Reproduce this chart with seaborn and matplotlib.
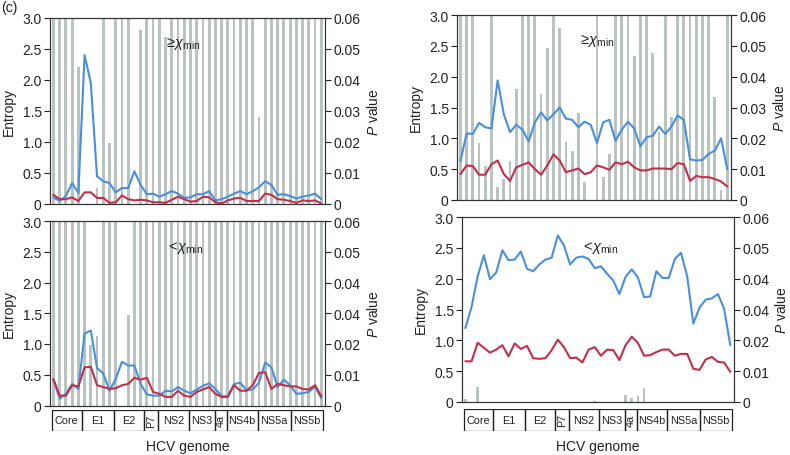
import numpy as np
import pandas as pd
import seaborn as sns
import matplotlib.pyplot as plt

# ---- data (44 windows along the HCV genome) ----
# top left panel (>= chi_min)
tl_blue = [0.10, 0.04, 0.12, 0.33, 0.17, 2.40, 1.95, 0.44, 0.36, 0.33,
           0.18, 0.25, 0.25, 0.52, 0.30, 0.15, 0.16, 0.11, 0.15, 0.20,
           0.16, 0.09, 0.10, 0.15, 0.15, 0.20, 0.05, 0.07, 0.11, 0.16,
           0.20, 0.15, 0.20, 0.26, 0.36, 0.30, 0.14, 0.15, 0.12, 0.08,
           0.11, 0.13, 0.16, 0.07]
tl_red = [0.14, 0.07, 0.07, 0.10, 0.04, 0.18, 0.18, 0.09, 0.09, 0.01,
          0.02, 0.13, 0.07, 0.05, 0.06, 0.05, 0.02, 0.02, 0.01, 0.06,
          0.11, 0.07, 0.03, 0.04, 0.11, 0.10, 0.02, 0.00, 0.05, 0.08,
          0.09, 0.04, 0.04, 0.04, 0.16, 0.14, 0.07, 0.06, 0.04, 0.01,
          0.05, 0.04, 0.05, 0.00]
tl_p = [0.06, 0.06, 0.06, 0.06, 0.044, 0, 0, 0.005, 0.06, 0.0195,
        0.06, 0.06, 0.06, 0, 0.056, 0.06, 0.06, 0.06, 0.054, 0.06,
        0.06, 0.06, 0.06, 0.06, 0.06, 0.06, 0.06, 0.06, 0.06, 0.06,
        0.06, 0.06, 0.06, 0.028, 0.06, 0.06, 0.06, 0.06, 0.06, 0.06,
        0.06, 0.06, 0.06, 0.06]

# top right panel (>= chi_min)
tr_blue = [0.63, 1.08, 1.07, 1.25, 1.18, 1.16, 1.94, 1.39, 1.10, 1.22,
           1.14, 0.95, 1.26, 1.42, 1.29, 1.39, 1.50, 1.32, 1.30, 1.18,
           1.27, 1.22, 0.92, 1.26, 1.30, 0.96, 1.14, 1.27, 1.16, 0.87,
           1.02, 1.04, 1.19, 1.07, 1.19, 1.37, 1.30, 0.66, 0.64, 0.65,
           0.75, 0.80, 1.00, 0.50]
tr_red = [0.42, 0.56, 0.55, 0.41, 0.41, 0.58, 0.64, 0.42, 0.31, 0.53,
          0.57, 0.61, 0.50, 0.41, 0.56, 0.74, 0.64, 0.45, 0.48, 0.51,
          0.42, 0.45, 0.56, 0.53, 0.49, 0.61, 0.58, 0.62, 0.53, 0.48,
          0.48, 0.51, 0.51, 0.51, 0.50, 0.60, 0.58, 0.31, 0.39, 0.37,
          0.37, 0.34, 0.30, 0.22]
tr_p = [0.06, 0.06, 0.06, 0.0185, 0.011, 0.06, 0.0042, 0.0068, 0.0125, 0.036,
        0.06, 0.06, 0.06, 0.0344, 0.0493, 0.06, 0.0557, 0.0189, 0.016, 0.0282,
        0.0058, 0, 0.06, 0.0075, 0.0149, 0.06, 0.06, 0.06, 0.0468, 0.06,
        0.06, 0.0476, 0.022, 0.06, 0.027, 0.06, 0.06, 0.06, 0.06, 0.06,
        0.06, 0.0334, 0.0033, 0.06]

# bottom left panel (< chi_min)
bl_blue = [0.42, 0.11, 0.19, 0.35, 0.27, 1.17, 1.22, 0.61, 0.52, 0.24,
           0.43, 0.71, 0.65, 0.65, 0.35, 0.18, 0.16, 0.16, 0.24, 0.23,
           0.30, 0.24, 0.20, 0.26, 0.32, 0.36, 0.27, 0.15, 0.15, 0.35,
           0.37, 0.25, 0.26, 0.37, 0.70, 0.62, 0.30, 0.42, 0.33, 0.19,
           0.20, 0.22, 0.31, 0.12]
bl_red = [0.43, 0.16, 0.16, 0.33, 0.31, 0.62, 0.63, 0.33, 0.30, 0.27,
          0.28, 0.33, 0.35, 0.45, 0.42, 0.45, 0.22, 0.19, 0.14, 0.14,
          0.24, 0.16, 0.14, 0.22, 0.26, 0.30, 0.19, 0.14, 0.14, 0.33,
          0.24, 0.24, 0.33, 0.53, 0.54, 0.27, 0.35, 0.33, 0.31, 0.31,
          0.27, 0.26, 0.33, 0.15]
bl_p = [0.06, 0.06, 0.06, 0.06, 0.06, 0.06, 0.0197, 0.0226, 0.06, 0.06,
        0.06, 0, 0.0293, 0.06, 0.06, 0.06, 0.06, 0.06, 0.06, 0.06,
        0.06, 0.06, 0.06, 0.06, 0.06, 0.06, 0.06, 0.06, 0.06, 0.06,
        0.06, 0.06, 0.06, 0.06, 0.06, 0.06, 0.06, 0.06, 0.06, 0.06,
        0.06, 0.06, 0.06, 0.06]

# bottom right panel (< chi_min)
br_blue = [1.20, 1.54, 2.04, 2.38, 1.99, 2.10, 2.46, 2.30, 2.31, 2.44,
           2.16, 2.12, 2.23, 2.31, 2.34, 2.70, 2.54, 2.23, 2.34, 2.36,
           2.32, 2.17, 2.20, 2.08, 1.97, 1.75, 2.03, 2.15, 2.02, 1.70,
           1.71, 2.12, 2.01, 2.01, 2.32, 2.42, 2.04, 1.27, 1.53, 1.66,
           1.68, 1.75, 1.51, 0.92]
br_red = [0.66, 0.66, 0.96, 0.88, 0.80, 0.85, 0.92, 0.74, 0.95, 0.86,
          0.91, 0.71, 0.70, 0.71, 0.84, 1.01, 0.89, 0.71, 0.72, 0.64,
          0.85, 0.89, 0.75, 0.85, 0.84, 0.68, 0.92, 1.06, 0.96, 0.75,
          0.76, 0.81, 0.85, 0.85, 0.75, 0.78, 0.78, 0.54, 0.52, 0.69,
          0.73, 0.65, 0.64, 0.49]
br_p = [0.0011, 0, 0.0049, 0, 0, 0, 0, 0, 0, 0,
        0, 0, 0, 0, 0, 0, 0, 0, 0, 0,
        0, 0.0004, 0, 0, 0, 0, 0.0022, 0.0014, 0.0019, 0.0046,
        0, 0, 0, 0, 0, 0, 0, 0, 0, 0,
        0, 0, 0, 0]

genes = ['Core', 'E1', 'E2', 'P7', 'NS2', 'NS3', '4a', 'NS4b', 'NS5a', 'NS5b']
gene_edges = [-0.3, 4.55, 9.65, 14.55, 16.8, 21.7, 25.9, 27.8, 32.8, 38.1, 43.35]

entropy_ticks = [0, 0.5, 1.0, 1.5, 2.0, 2.5, 3.0]
entropy_labels = ['0', '0.5', '1.0', '1.5', '2.0', '2.5', '3.0']
p_ticks = [0, 0.01, 0.02, 0.03, 0.04, 0.05, 0.06]
p_labels_top = ['0', '0.01', '0.02', '0.03', '0.04', '0.05', '0.06']
p_labels_bottom = ['0', '0.01', '0.02', '0.04', '0.04', '0.05', '0.06']  # as printed

BLUE = '#4a8fdb'
RED = '#c0304a'
GREY = '#b9c3c0'
INK = '#222222'

sns.set_theme(style='white')
plt.rcParams['font.family'] = ['Liberation Sans', 'DejaVu Sans']
plt.rcParams['mathtext.fontset'] = 'custom'
plt.rcParams['mathtext.rm'] = 'Liberation Sans'
plt.rcParams['mathtext.it'] = 'Liberation Sans:italic'

W, H = 790, 456
fig = plt.figure(figsize=(W / 100, H / 100), dpi=100)


def px_rect(left, right, top, bottom):
    return [left / W, 1 - bottom / H, (right - left) / W, (bottom - top) / H]


def panel(box, blue, red, pvals, tag, p_labels, tag_xy):
    ax = fig.add_axes(px_rect(*box))
    ax2 = ax.twinx()
    n = len(blue)
    pos = np.arange(n)

    bars = pd.DataFrame({'pos': pos, 'p': pvals})
    sns.barplot(data=bars, x='pos', y='p', ax=ax2, color=GREY, saturation=1,
                width=0.45, linewidth=0, native_scale=True, errorbar=None)

    lines = pd.DataFrame({'pos': np.concatenate([pos, pos]),
                          'entropy': blue + red,
                          'set': ['all'] * n + ['low'] * n})
    sns.lineplot(data=lines, x='pos', y='entropy', hue='set',
                 palette={'all': BLUE, 'low': RED}, ax=ax, legend=False,
                 linewidth=1.5)

    ax.set_zorder(ax2.get_zorder() + 1)
    ax.patch.set_visible(False)

    ax.set_xlim(-0.55, 43.6)
    ax.set_ylim(0, 3)
    ax2.set_ylim(0, 0.06)
    ax.set_xticks([])
    ax2.set_xticks([])
    ax.set_xlabel('')
    ax2.set_xlabel('')

    ax.set_yticks(entropy_ticks, entropy_labels)
    ax2.set_yticks(p_ticks, p_labels)
    for a in (ax, ax2):
        a.tick_params(axis='y', direction='out', length=4, width=0.8,
                      labelsize=10, colors=INK, pad=2)
        for s in a.spines.values():
            s.set_linewidth(0.8)
            s.set_color('#333333')

    ax.set_ylabel('Entropy', fontsize=10, color=INK)
    ax.yaxis.set_label_coords(-0.125, 0.5)
    ax2.set_ylabel(r'$\it{P}$ value', fontsize=10, color=INK)
    ax2.yaxis.set_label_coords(1.148, 0.5)

    ax.text(tag_xy[0], tag_xy[1], tag, transform=ax.transAxes,
            ha='center', va='center', fontsize=10.5, color=INK)
    return ax


def gene_strip(box):
    axs = fig.add_axes(px_rect(*box))
    widths = np.diff(gene_edges)
    axs.bar(gene_edges[:-1], 1, width=widths, align='edge', fill=False,
            edgecolor=INK, linewidth=0.9)
    for g, a, w in zip(genes, gene_edges[:-1], widths):
        rot = 90 if g in ('P7', '4a') else 0
        axs.text(a + w / 2, 0.5, g, ha='center', va='center', rotation=rot,
                 fontsize=7.8, color=INK)
    axs.set_xlim(-0.55, 43.6)
    axs.set_ylim(0, 1)
    axs.set_xticks([])
    axs.set_yticks([])
    for s in axs.spines.values():
        s.set_visible(False)
    axs.set_xlabel('HCV genome', fontsize=10, color=INK, labelpad=6)


chi_ge = r'$\geq\!\chi_{\mathrm{min}}$'
chi_lt = r'$<\!\chi_{\mathrm{min}}$'

panel((50, 325, 19, 204.5), tl_blue, tl_red, tl_p, chi_ge, p_labels_top, (0.48, 0.87))
panel((457, 731, 16, 201), tr_blue, tr_red, tr_p, chi_ge, p_labels_top, (0.51, 0.87))
panel((50, 325, 222, 406.5), bl_blue, bl_red, bl_p, chi_lt, p_labels_bottom, (0.49, 0.86))
panel((462, 734, 218, 403), br_blue, br_red, br_p, chi_lt, p_labels_bottom, (0.505, 0.84))

gene_strip((50, 325, 410.7, 431.7))
gene_strip((462, 734, 410, 431.5))

fig.text(0.001, 1 - 8 / H, '(c)', fontsize=10, va='center', ha='left', color=INK)

fig.savefig('out.png', dpi=100)
